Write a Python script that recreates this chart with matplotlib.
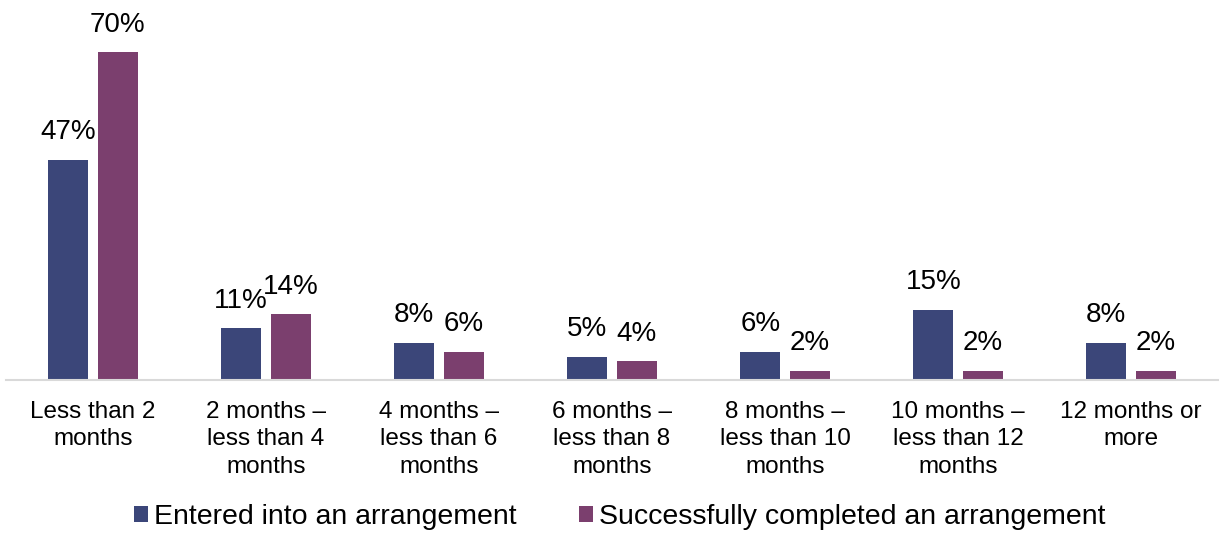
import numpy as np
import matplotlib.pyplot as plt

plt.rcParams['font.family'] = ['Liberation Sans', 'DejaVu Sans']

categories = ["Less than 2\nmonths", "2 months \u2013\nless than 4\nmonths", "4 months \u2013\nless than 6\nmonths",
              "6 months \u2013\nless than 8\nmonths", "8 months \u2013\nless than 10\nmonths",
              "10 months \u2013\nless than 12\nmonths", "12 months or\nmore"]
entered = [47, 11, 8, 5, 6, 15, 8]
completed = [70, 14, 6, 4, 2, 2, 2]

fig = plt.figure(figsize=(12.2, 5.33), dpi=100)
ax = fig.add_axes([0.0053, 0.287, 0.9927, 0.675])

x = np.arange(len(categories))
w = 0.231
off = 0.143
b1 = ax.bar(x - off, entered, w, color='#3B4679', label='Entered into an arrangement')
b2 = ax.bar(x + off, completed, w, color='#7B3F6E', label='Successfully completed an arrangement')

for bars, vals in [(b1, entered), (b2, completed)]:
    for b, v in zip(bars, vals):
        ax.text(b.get_x() + b.get_width() / 2, v + 3.1, f"{v}%", ha='center', va='bottom', fontsize=20)

ax.set_xlim(-0.5, len(categories) - 0.5)
ax.set_ylim(0, 76.8)
ax.set_xticks(x)
ax.set_xticklabels(categories, fontsize=17.5, linespacing=1.32, va='top')
ax.tick_params(axis='x', length=0, pad=15)
ax.set_yticks([])
for s in ['top', 'right', 'left']:
    ax.spines[s].set_visible(False)
ax.spines['bottom'].set_color('#D9D9D9')
ax.spines['bottom'].set_linewidth(1.5)

fig.legend(loc='center', bbox_to_anchor=(0.508, 0.03), ncol=2, frameon=False, fontsize=20.5,
           handlelength=0.5, handleheight=0.5, handletextpad=0.2, columnspacing=2.2)

fig.savefig('out.png', dpi=100)
